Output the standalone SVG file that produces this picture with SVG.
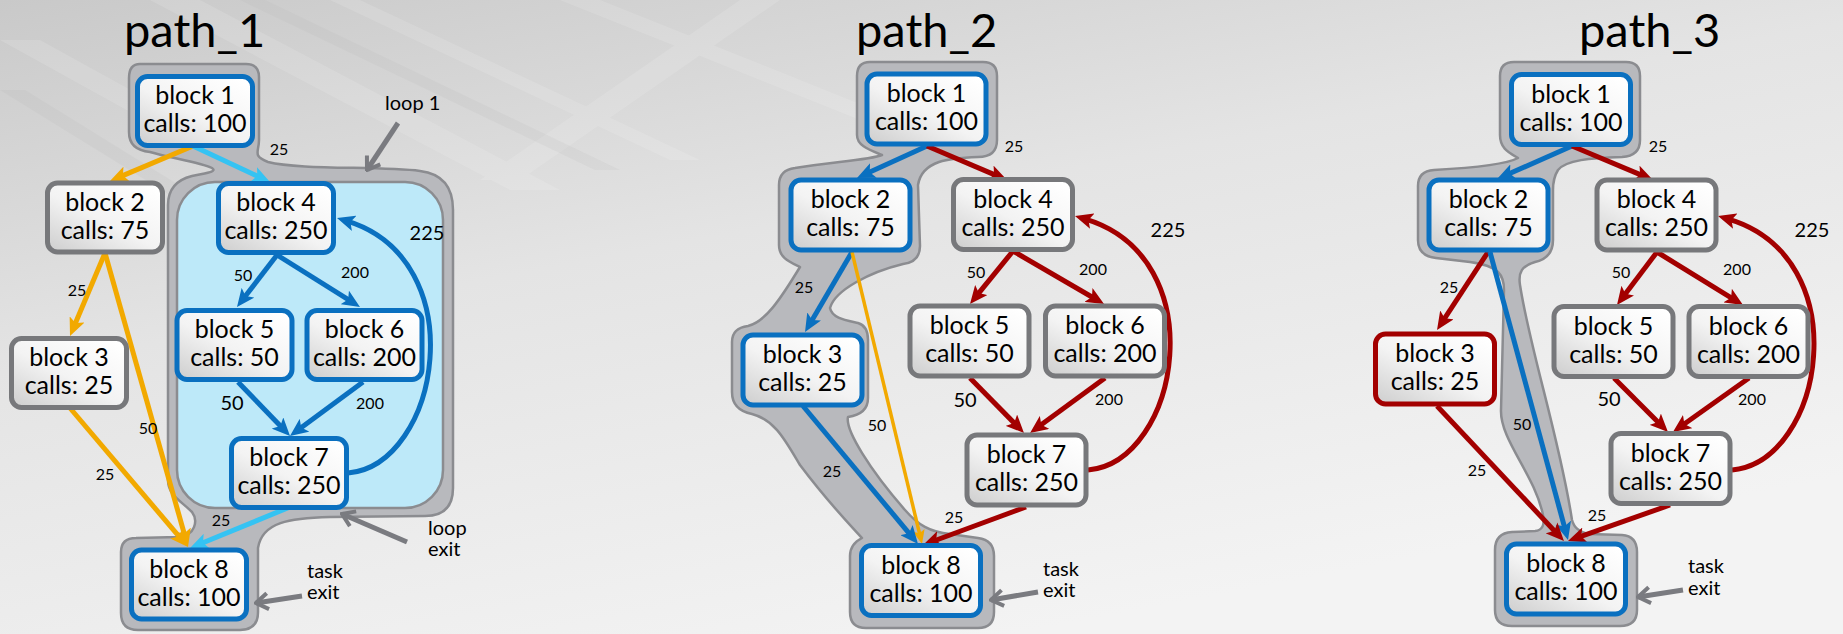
<svg xmlns="http://www.w3.org/2000/svg" width="1843" height="634" viewBox="0 0 1843 634">
  <defs>
    <linearGradient id="bg" x1="0" y1="0" x2="0.55" y2="1">
      <stop offset="0" stop-color="#c9c9c9"/>
      <stop offset="0.45" stop-color="#e4e4e4"/>
      <stop offset="1" stop-color="#f3f3f3"/>
    </linearGradient>
    <linearGradient id="boxFill" x1="0" y1="1" x2="0.85" y2="0">
      <stop offset="0" stop-color="#cdcdcd"/>
      <stop offset="0.5" stop-color="#f3f3f3"/>
      <stop offset="1" stop-color="#ffffff"/>
    </linearGradient>
    <marker id="ah-red" viewBox="0 0 18 16" refX="8" refY="8" markerWidth="18" markerHeight="16" orient="auto" markerUnits="userSpaceOnUse">
      <path d="M0,0 L18,8 L0,16 L4,8 Z" fill="#a30000"/>
    </marker>
    <marker id="ah-blue" viewBox="0 0 18 16" refX="8" refY="8" markerWidth="18" markerHeight="16" orient="auto" markerUnits="userSpaceOnUse">
      <path d="M0,0 L18,8 L0,16 L4,8 Z" fill="#0a70c0"/>
    </marker>
    <marker id="ah-sky" viewBox="0 0 18 16" refX="8" refY="8" markerWidth="18" markerHeight="16" orient="auto" markerUnits="userSpaceOnUse">
      <path d="M0,0 L18,8 L0,16 L4,8 Z" fill="#35c3f3"/>
    </marker>
    <marker id="ah-orange" viewBox="0 0 18 16" refX="8" refY="8" markerWidth="18" markerHeight="16" orient="auto" markerUnits="userSpaceOnUse">
      <path d="M0,0 L18,8 L0,16 L4,8 Z" fill="#f2a900"/>
    </marker>
    <marker id="ah-orange-s" viewBox="0 0 14 12" refX="7" refY="6" markerWidth="14" markerHeight="12" orient="auto" markerUnits="userSpaceOnUse">
      <path d="M0,0 L14,6 L0,12 L3,6 Z" fill="#f2a900"/>
    </marker>
    <marker id="chev" viewBox="0 0 16 20" refX="14" refY="10" markerWidth="16" markerHeight="20" orient="auto" markerUnits="userSpaceOnUse">
      <path d="M2,2 L14,10 L2,18" fill="none" stroke="#7a7b80" stroke-width="4"/>
    </marker>
    <style>
      .title { font-family: Lato, "Liberation Sans", sans-serif; font-size: 47px; fill: #000; }
      .node rect { fill: url(#boxFill); stroke-width: 5; }
      .node.sel rect { stroke: #0a70c0; }
      .node.off rect { stroke: #77787b; }
      .node.hot rect { stroke: #a30000; }
      .node text { font-family: Lato, "Liberation Sans", sans-serif; font-size: 25px; fill: #000; text-anchor: middle; }
      .halo { fill: #b8b9bd; stroke: #8b8c90; stroke-width: 2.5; stroke-linejoin: round; }
      .loop { fill: #bde9f9; stroke: #8b8c90; stroke-width: 2.5; }
      .edge { fill: none; stroke-width: 5; }
      .red { stroke: #a30000; marker-end: url(#ah-red); }
      .blue { stroke: #0a70c0; marker-end: url(#ah-blue); }
      .sky { stroke: #35c3f3; marker-end: url(#ah-sky); }
      .orange { stroke: #f2a900; marker-end: url(#ah-orange); }
      .orange-thin { stroke: #f2a900; stroke-width: 3.5; marker-end: url(#ah-orange-s); }
      .lbl { font-family: Lato, "Liberation Sans", sans-serif; font-size: 16px; fill: #000; text-anchor: middle; }
      .lbl.big { font-size: 20px; }
      .note { font-family: Lato, "Liberation Sans", sans-serif; font-size: 20px; fill: #000; }
      .pointer { fill: none; stroke: #7a7b80; stroke-width: 5; marker-end: url(#chev); }
    </style>
  </defs>

  <!-- backdrop with faint diagonal streaks -->
  <rect width="1843" height="634" fill="url(#bg)"/>
  <g fill="#ffffff" opacity="0.12">
    <polygon points="0,40 40,40 420,250 380,250"/>
    <polygon points="150,0 200,0 560,190 510,190"/>
    <polygon points="330,0 360,0 700,160 670,160"/>
    <polygon points="480,180 520,180 780,0 740,0"/>
    <polygon points="560,0 600,0 900,120 860,120"/>
  </g>
  <g fill="#b4b4b4" opacity="0.15">
    <polygon points="0,90 25,90 300,260 275,260"/>
    <polygon points="240,0 265,0 620,170 595,170"/>
  </g>

  <!-- titles -->
  <text class="title" x="124" y="47">path_1</text>
  <text class="title" x="856" y="47">path_2</text>
  <text class="title" x="1579" y="47">path_3</text>

  <!-- highlighted regions -->
  <g id="halos">
    <path id="p1-halo" class="halo" d="M140,64 L246,64 Q259,64 259,77 L259,140 C259,152 252,156 268,162 C300,170 380,166 420,171 Q453,175 453,210 L453,488 Q453,516 425,516 L330,517 C290,518 262,522 258,548 L258,612 Q258,630 240,630 L138,630 Q121,630 121,613 L121,552 Q121,538 136,538 L178,537 C196,536 198,520 192,512 C180,500 168,495 168,480 L168,205 Q168,182 192,176 C205,173 218,172 212,168 C200,162 170,158 150,152 Q129,150 129,132 L129,78 Q129,64 140,64 Z"/>
    <rect id="p1-loop" class="loop" x="177" y="182" width="266" height="326" rx="38"/>
    <path id="p2-halo" class="halo" d="M870,62 L983,62 Q997,62 997,76 L997,140 Q997,157 978,157 C950,158 922,160 918,185 L920,246 Q920,262 903,264 C870,272 835,290 830,308 C832,318 845,320 858,323 Q868,326 868,340 L868,398 Q868,414 848,417 C845,430 870,470 905,510 C918,525 930,532 950,534 L978,538 Q994,540 994,556 L994,612 Q994,628 978,628 L866,628 Q850,628 850,612 L850,556 Q850,544 862,538 C855,530 830,505 800,465 C785,440 775,420 752,414 Q732,410 732,392 L732,342 Q732,328 748,326 C765,322 780,300 800,267 C790,262 779,258 779,245 L779,185 Q779,170 795,168 C830,162 870,160 882,155 C870,150 857,146 857,135 L857,76 Q857,62 870,62 Z"/>
    <path id="p3-halo" class="halo" d="M1514,62 L1626,62 Q1640,62 1640,76 L1640,140 Q1640,156 1622,157 C1590,158 1566,160 1558,170 Q1553,178 1553,190 L1553,240 Q1553,258 1535,262 C1522,266 1518,272 1520,285 C1530,350 1560,440 1572,520 Q1575,532 1590,534 L1622,535 Q1637,536 1637,552 L1637,610 Q1637,626 1620,626 L1512,626 Q1495,626 1495,610 L1495,550 Q1495,533 1512,532 L1535,531 Q1546,530 1543,515 C1535,475 1500,440 1501,410 L1504,290 C1504,276 1500,266 1470,262 L1436,258 Q1418,256 1418,240 L1418,186 Q1418,171 1434,170 C1470,168 1505,165 1518,158 C1508,152 1500,148 1500,135 L1500,76 Q1500,62 1514,62 Z"/>
  </g>

  <!-- connectors -->
  <g id="connectors">
    <!-- path_1 -->
    <line class="edge orange" x1="193" y1="146" x2="119.2" y2="177.1"/>
    <line class="edge sky" x1="193" y1="146" x2="260.9" y2="177.8"/>
    <line class="edge orange" x1="105" y1="253" x2="73.9" y2="326.8"/>
    <line class="edge orange" x1="105" y1="253" x2="185.3" y2="537.4"/>
    <line class="edge orange" x1="70" y1="408" x2="181.5" y2="539.4"/>
    <line class="edge blue" x1="277" y1="255" x2="243.1" y2="299.1"/>
    <line class="edge blue" x1="277" y1="255" x2="351.5" y2="301.7"/>
    <line class="edge blue" x1="238" y1="382" x2="283.1" y2="428.8"/>
    <line class="edge blue" x1="363" y1="382" x2="298" y2="430"/>
    <path class="edge blue" d="M348,473 C440,465 475,260 346.6,220.9"/>
    <line class="edge sky" x1="290" y1="507" x2="199.3" y2="544.2"/>
    <!-- path_2 -->
    <line class="edge blue" x1="927" y1="146" x2="866.1" y2="173.8"/>
    <line class="edge red" x1="927" y1="146" x2="997.8" y2="176.1"/>
    <line class="edge blue" x1="852" y1="252" x2="810.1" y2="323.4"/>
    <line class="edge orange-thin" x1="852" y1="252" x2="920.4" y2="537.2"/>
    <line class="edge blue" x1="803" y1="406" x2="911.6" y2="536.3"/>
    <line class="edge red" x1="1013" y1="251" x2="976.3" y2="296.2"/>
    <line class="edge red" x1="1013" y1="251" x2="1095.4" y2="299"/>
    <line class="edge red" x1="970" y1="378" x2="1017" y2="425.9"/>
    <line class="edge red" x1="1105" y1="378" x2="1038.1" y2="427.1"/>
    <path class="edge red" d="M1088,470 C1180,462 1215,257 1084.6,218.8"/>
    <line class="edge red" x1="1026" y1="507" x2="932.4" y2="541.5"/>
    <!-- path_3 -->
    <line class="edge blue" x1="1572" y1="146" x2="1506.2" y2="175"/>
    <line class="edge red" x1="1572" y1="146" x2="1643.8" y2="176.1"/>
    <line class="edge red" x1="1488" y1="252" x2="1442.5" y2="321.6"/>
    <line class="edge blue" x1="1490" y1="252" x2="1565.4" y2="530.4"/>
    <line class="edge red" x1="1437" y1="406" x2="1557.1" y2="533.7"/>
    <line class="edge red" x1="1657" y1="252" x2="1623" y2="297"/>
    <line class="edge red" x1="1657" y1="252" x2="1734.5" y2="299.8"/>
    <line class="edge red" x1="1614" y1="378" x2="1660.9" y2="424.9"/>
    <line class="edge red" x1="1749" y1="378" x2="1681.1" y2="426.2"/>
    <path class="edge red" d="M1732,470 C1824,462 1859,257 1727.6,218.8"/>
    <line class="edge red" x1="1670" y1="505" x2="1577.4" y2="537.7"/>
  </g>

  <!-- connector labels -->
  <g id="edge-labels">
    <text class="lbl" x="279" y="155">25</text>
    <text class="lbl" x="77" y="296">25</text>
    <text class="lbl" x="148" y="434">50</text>
    <text class="lbl" x="105" y="480">25</text>
    <text class="lbl" x="243" y="281">50</text>
    <text class="lbl" x="355" y="278">200</text>
    <text class="lbl big" x="232" y="410">50</text>
    <text class="lbl" x="370" y="409">200</text>
    <text class="lbl big" x="427" y="240">225</text>
    <text class="lbl" x="221" y="526">25</text>

    <text class="lbl" x="1014" y="152">25</text>
    <text class="lbl" x="804" y="293">25</text>
    <text class="lbl" x="877" y="431">50</text>
    <text class="lbl" x="832" y="477">25</text>
    <text class="lbl" x="976" y="278">50</text>
    <text class="lbl" x="1093" y="275">200</text>
    <text class="lbl big" x="965" y="407">50</text>
    <text class="lbl" x="1109" y="405">200</text>
    <text class="lbl big" x="1168" y="237">225</text>
    <text class="lbl" x="954" y="523">25</text>

    <text class="lbl" x="1658" y="152">25</text>
    <text class="lbl" x="1449" y="293">25</text>
    <text class="lbl" x="1522" y="430">50</text>
    <text class="lbl" x="1477" y="476">25</text>
    <text class="lbl" x="1621" y="278">50</text>
    <text class="lbl" x="1737" y="275">200</text>
    <text class="lbl big" x="1609" y="406">50</text>
    <text class="lbl" x="1752" y="405">200</text>
    <text class="lbl big" x="1812" y="237">225</text>
    <text class="lbl" x="1597" y="521">25</text>
  </g>

  <!-- path_1 blocks -->
  <g id="p1-block1" class="node sel"><rect x="137.5" y="76.5" width="115" height="69" rx="10"/><text x="195" y="104">block 1</text><text x="195" y="132">calls: 100</text></g>
  <g id="p1-block2" class="node off"><rect x="47.5" y="183" width="115" height="69" rx="10"/><text x="105" y="210.5">block 2</text><text x="105" y="238.5">calls: 75</text></g>
  <g id="p1-block3" class="node off"><rect x="11.5" y="338.5" width="115" height="69" rx="10"/><text x="69" y="366">block 3</text><text x="69" y="394">calls: 25</text></g>
  <g id="p1-block4" class="node sel"><rect x="218.5" y="183.5" width="115" height="69" rx="10"/><text x="276" y="211">block 4</text><text x="276" y="239">calls: 250</text></g>
  <g id="p1-block5" class="node sel"><rect x="177" y="310.5" width="115" height="69" rx="10"/><text x="234.5" y="338">block 5</text><text x="234.5" y="366">calls: 50</text></g>
  <g id="p1-block6" class="node sel"><rect x="307" y="310.5" width="115" height="69" rx="10"/><text x="364.5" y="338">block 6</text><text x="364.5" y="366">calls: 200</text></g>
  <g id="p1-block7" class="node sel"><rect x="231.5" y="438.5" width="115" height="69" rx="10"/><text x="289" y="466">block 7</text><text x="289" y="494">calls: 250</text></g>
  <g id="p1-block8" class="node sel"><rect x="131.5" y="550" width="115" height="69" rx="10"/><text x="189" y="577.5">block 8</text><text x="189" y="605.5">calls: 100</text></g>

  <!-- path_2 blocks -->
  <g id="p2-block1" class="node sel"><rect x="867" y="74" width="119" height="70" rx="10"/><text x="926.5" y="102">block 1</text><text x="926.5" y="130">calls: 100</text></g>
  <g id="p2-block2" class="node sel"><rect x="791" y="180" width="119" height="70" rx="10"/><text x="850.5" y="208">block 2</text><text x="850.5" y="236">calls: 75</text></g>
  <g id="p2-block3" class="node sel"><rect x="743" y="335" width="119" height="70" rx="10"/><text x="802.5" y="363">block 3</text><text x="802.5" y="391">calls: 25</text></g>
  <g id="p2-block4" class="node off"><rect x="953.5" y="179.5" width="119" height="70" rx="10"/><text x="1013" y="207.5">block 4</text><text x="1013" y="235.5">calls: 250</text></g>
  <g id="p2-block5" class="node off"><rect x="910" y="306" width="119" height="70" rx="10"/><text x="969.5" y="334">block 5</text><text x="969.5" y="362">calls: 50</text></g>
  <g id="p2-block6" class="node off"><rect x="1045.5" y="306" width="119" height="70" rx="10"/><text x="1105" y="334">block 6</text><text x="1105" y="362">calls: 200</text></g>
  <g id="p2-block7" class="node off"><rect x="967" y="435" width="119" height="70" rx="10"/><text x="1026.5" y="463">block 7</text><text x="1026.5" y="491">calls: 250</text></g>
  <g id="p2-block8" class="node sel"><rect x="861.5" y="545.5" width="119" height="70" rx="10"/><text x="921" y="573.5">block 8</text><text x="921" y="601.5">calls: 100</text></g>

  <!-- path_3 blocks -->
  <g id="p3-block1" class="node sel"><rect x="1511.5" y="74.5" width="119" height="70" rx="10"/><text x="1571" y="102.5">block 1</text><text x="1571" y="130.5">calls: 100</text></g>
  <g id="p3-block2" class="node sel"><rect x="1429" y="180" width="119" height="70" rx="10"/><text x="1488.5" y="208">block 2</text><text x="1488.5" y="236">calls: 75</text></g>
  <g id="p3-block3" class="node hot"><rect x="1375.5" y="334" width="119" height="70" rx="10"/><text x="1435" y="362">block 3</text><text x="1435" y="390">calls: 25</text></g>
  <g id="p3-block4" class="node off"><rect x="1597" y="180" width="119" height="70" rx="10"/><text x="1656.5" y="208">block 4</text><text x="1656.5" y="236">calls: 250</text></g>
  <g id="p3-block5" class="node off"><rect x="1554" y="306.5" width="119" height="70" rx="10"/><text x="1613.5" y="334.5">block 5</text><text x="1613.5" y="362.5">calls: 50</text></g>
  <g id="p3-block6" class="node off"><rect x="1689" y="306.5" width="119" height="70" rx="10"/><text x="1748.5" y="334.5">block 6</text><text x="1748.5" y="362.5">calls: 200</text></g>
  <g id="p3-block7" class="node off"><rect x="1611" y="433.5" width="119" height="70" rx="10"/><text x="1670.5" y="461.5">block 7</text><text x="1670.5" y="489.5">calls: 250</text></g>
  <g id="p3-block8" class="node sel"><rect x="1506.5" y="544" width="119" height="70" rx="10"/><text x="1566" y="572">block 8</text><text x="1566" y="600">calls: 100</text></g>

  <!-- callouts -->
  <g id="callouts">
    <text class="note" x="385" y="110">loop 1</text>
    <line class="pointer" x1="398" y1="123" x2="367" y2="170"/>
    <text class="note" x="428" y="535">loop</text>
    <text class="note" x="428" y="556">exit</text>
    <line class="pointer" x1="407" y1="542" x2="342" y2="514"/>
    <text class="note" x="307" y="578">task</text>
    <text class="note" x="307" y="599">exit</text>
    <line class="pointer" x1="302" y1="596" x2="256" y2="603"/>
    <text class="note" x="1043" y="576">task</text>
    <text class="note" x="1043" y="597">exit</text>
    <line class="pointer" x1="1038" y1="592" x2="991" y2="600"/>
    <text class="note" x="1688" y="573">task</text>
    <text class="note" x="1688" y="595">exit</text>
    <line class="pointer" x1="1683" y1="590" x2="1638" y2="597"/>
  </g>
</svg>
